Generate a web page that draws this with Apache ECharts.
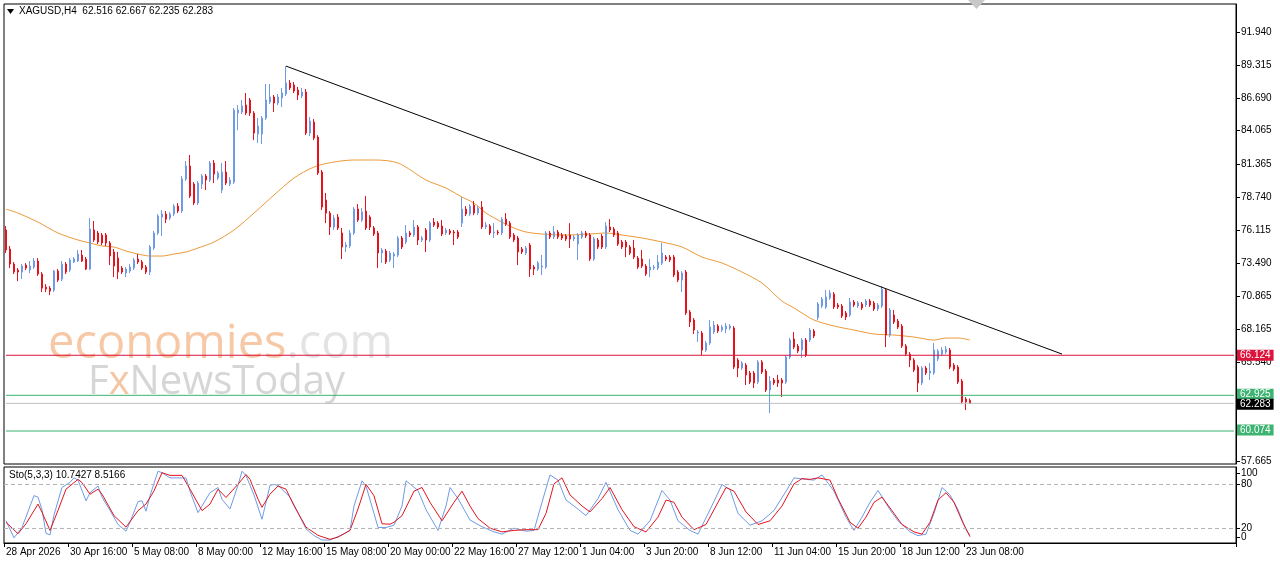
<!DOCTYPE html>
<html>
<head>
<meta charset="utf-8">
<script src="https://cdn.jsdelivr.net/npm/echarts@6/dist/echarts.min.js"></script>
<style>
html,body{margin:0;padding:0;background:#fff;}
#chart{width:1280px;height:567px;}
</style>
</head>
<body>
<div id="chart"></div>
<script>
// ---------- DATA ----------
const symbolTitle = 'XAGUSD,H4  62.516 62.667 62.235 62.283';
const stochTitle = 'Sto(5,3,3) 10.7427 8.5166';
const tickLabels = ['28 Apr 2026','30 Apr 16:00','5 May 08:00','8 May 00:00','12 May 16:00','15 May 08:00','20 May 00:00','22 May 16:00','27 May 12:00','1 Jun 04:00','3 Jun 20:00','8 Jun 12:00','11 Jun 04:00','15 Jun 20:00','18 Jun 12:00','23 Jun 08:00'];
const priceTicks = [91.940, 89.315, 86.690, 84.065, 81.365, 78.740, 76.115, 73.490, 70.865, 68.165, 65.540, 57.665];

const opens = [
76.13,74.61,73.41,72.93,72.77,73.33,72.93,73.17,73.65,72.61,
71.57,71.49,71.33,72.85,72.21,73.41,72.93,73.57,73.65,74.13,
73.81,73.01,76.13,75.89,75.73,75.73,75.09,74.37,73.89,73.09,
72.69,72.85,73.09,73.81,73.57,73.17,72.77,74.69,75.89,77.16,
77.40,77.08,77.40,78.04,77.64,80.20,81.24,79.80,78.28,79.80,
80.44,80.12,81.48,80.28,79.32,80.76,79.80,79.96,85.47,85.55,
86.11,86.51,85.47,83.79,83.79,85.07,86.35,86.75,86.27,86.67,
86.99,87.87,87.71,87.31,86.83,87.15,83.87,84.75,83.55,80.76,
78.52,77.48,76.37,77.16,75.89,74.77,74.85,75.89,77.80,76.92,
77.64,77.16,76.29,75.89,74.29,74.45,73.73,74.05,74.13,75.49,
75.17,75.89,75.73,76.37,75.33,76.13,75.33,76.76,76.68,76.45,
75.89,76.05,75.97,75.97,76.68,77.80,77.40,78.12,77.48,77.96,
76.37,76.45,75.89,75.97,75.89,77.00,76.68,75.73,75.49,74.61,
74.29,74.93,73.17,73.01,73.17,73.17,75.89,75.57,75.97,75.73,
75.65,75.73,75.41,75.01,75.57,75.89,75.73,73.81,75.33,75.65,
74.77,76.37,76.21,75.89,75.17,75.17,74.77,74.69,73.89,73.81,
73.25,72.93,73.09,73.09,73.49,73.97,73.97,73.97,72.77,72.13,
72.77,69.58,68.94,67.90,67.90,66.54,67.10,67.98,68.46,68.14,
68.22,68.30,68.30,65.74,65.10,65.34,64.71,64.71,63.99,65.58,
64.86,63.35,64.15,64.15,64.15,63.99,65.98,67.42,66.86,66.54,
67.34,67.34,68.06,69.14,70.06,69.98,70.70,71.01,70.14,70.06,
69.50,69.34,70.38,70.06,70.22,70.14,70.46,70.30,69.82,70.06,
71.33,67.74,69.34,68.86,68.46,66.86,66.22,65.74,65.18,63.91,
65.10,64.71,64.71,65.82,66.22,66.38,66.54,65.34,65.18,64.07,
62.63,62.516];
const closes = [
74.53,73.41,72.77,72.77,73.25,73.09,73.25,73.65,72.61,71.49,
71.41,71.25,72.85,72.13,73.41,72.77,73.73,73.81,74.21,73.65,
73.01,76.21,75.33,75.17,75.09,75.09,74.05,73.25,72.77,72.77,
73.01,73.17,73.73,73.57,73.09,72.77,74.77,75.89,77.24,77.40,
77.00,77.40,78.04,77.64,80.20,81.24,78.84,78.28,79.88,80.44,
80.12,81.48,80.60,80.68,80.76,79.88,80.12,85.71,85.71,86.03,
85.47,85.47,83.87,84.43,85.07,86.51,86.75,86.27,86.75,87.07,
87.87,87.47,87.23,86.91,87.15,83.87,84.83,83.47,80.68,77.96,
77.48,76.37,77.08,76.29,74.77,74.93,75.89,77.80,76.92,77.56,
76.29,76.37,75.81,74.29,74.53,73.57,74.29,74.21,75.49,74.77,
75.89,75.73,76.37,75.33,75.49,75.33,76.68,76.52,76.37,75.81,
76.13,75.89,75.89,75.57,77.80,77.40,78.04,77.48,77.88,76.37,
76.52,75.89,75.97,75.89,77.00,76.60,75.57,75.33,74.37,74.37,
74.69,73.01,73.01,73.49,73.25,75.89,75.57,75.97,75.57,75.49,
75.41,75.41,75.57,75.73,75.89,75.65,73.81,75.41,74.77,74.77,
76.45,76.13,75.73,75.01,74.77,74.77,74.29,73.97,73.17,73.25,
72.61,73.17,73.17,73.57,74.29,73.81,73.73,72.53,72.13,72.69,
69.50,68.78,68.14,67.98,66.54,67.10,68.38,68.54,68.06,68.38,
68.46,68.46,65.18,65.10,65.50,64.55,63.99,63.91,65.58,64.78,
63.35,64.07,63.91,63.91,63.91,65.98,67.34,66.78,66.46,67.34,
66.14,68.14,67.66,70.22,70.62,70.78,71.09,69.98,69.98,69.26,
69.18,70.38,70.14,70.30,69.90,70.46,70.14,69.82,70.14,71.41,
67.74,69.74,68.78,68.38,66.86,66.22,65.74,64.94,63.91,65.10,
64.71,64.86,66.54,66.46,66.54,66.62,65.18,65.02,63.99,62.39,
62.39,62.283];
const lows = [
74.29,73.09,72.61,72.05,72.21,72.93,72.69,73.01,72.45,71.17,
71.17,70.93,71.17,71.97,72.05,72.61,72.77,73.49,73.57,73.57,
72.93,72.93,75.17,75.01,74.93,74.85,73.33,72.37,72.21,72.61,
72.37,72.69,72.93,73.41,72.93,72.61,72.53,74.53,75.73,75.65,
76.68,76.92,77.24,77.48,77.48,80.04,78.68,78.12,78.12,79.40,
79.32,79.96,79.88,80.12,79.08,79.72,79.64,79.80,84.11,85.39,
85.31,85.23,83.31,83.07,82.99,84.91,86.19,85.55,86.11,85.95,
86.83,87.31,87.07,86.51,86.67,83.71,83.63,83.31,80.52,77.72,
76.68,75.73,76.13,76.13,73.81,74.37,74.69,75.73,76.77,76.77,
76.13,76.13,75.65,73.09,73.49,73.41,73.57,73.09,73.97,74.61,
75.01,75.57,75.57,74.93,75.17,74.37,75.17,76.37,76.21,75.65,
75.73,75.73,74.93,75.41,76.37,77.24,77.24,77.32,77.32,76.21,
76.21,75.73,75.49,75.73,75.73,76.45,75.41,75.17,73.33,74.21,
74.13,72.37,72.53,72.85,72.53,73.01,75.41,75.41,75.41,75.33,
75.25,74.69,75.25,73.73,75.41,75.49,73.65,73.65,74.61,74.61,
74.61,75.97,75.57,74.85,74.61,73.97,74.13,73.81,73.01,73.09,
72.45,72.37,72.93,72.93,73.33,73.65,73.57,72.37,71.97,71.17,
69.34,68.38,67.82,67.18,66.14,66.38,66.94,67.82,67.90,67.98,
67.90,68.14,65.02,64.39,64.94,63.75,63.83,63.51,63.83,64.62,
63.19,61.51,63.75,63.59,62.79,63.83,65.82,66.62,66.30,65.90,
65.98,67.18,67.50,68.94,69.90,69.82,70.54,69.82,69.82,69.10,
68.94,69.18,69.98,69.90,69.74,69.98,69.98,69.66,69.66,69.90,
66.78,67.58,68.62,68.22,66.70,66.06,65.18,64.78,63.19,63.75,
64.55,64.15,64.55,65.66,66.06,66.22,65.02,64.86,63.83,62.23,
61.75,62.235];
const highs = [
76.45,74.85,73.57,73.09,73.41,73.49,73.65,73.89,73.89,72.77,
71.81,71.65,72.93,73.01,73.65,73.57,73.89,73.97,74.53,74.53,
73.97,77.09,76.85,76.05,75.89,75.89,75.25,74.61,74.37,73.25,
73.17,73.41,73.89,74.21,73.73,73.33,74.93,76.05,77.40,77.72,
77.64,77.56,78.20,78.28,80.44,81.64,82.12,79.96,80.04,80.60,
80.60,81.64,81.72,80.84,81.48,81.64,80.36,85.87,86.11,86.51,
87.07,86.67,85.63,85.07,85.23,87.79,87.79,86.91,86.99,87.47,
89.22,88.11,87.95,87.55,87.47,87.39,85.15,84.99,83.71,80.92,
79.08,77.64,77.32,77.40,76.29,75.17,76.13,77.96,78.20,77.88,
78.84,77.32,76.45,76.05,74.69,74.61,74.45,74.37,75.65,75.65,
76.53,76.05,76.93,76.53,75.65,76.29,76.84,77.08,76.84,76.93,
76.29,76.21,76.13,76.13,78.76,78.04,78.20,78.44,78.04,78.44,
76.76,76.60,76.68,76.13,77.16,77.48,76.84,75.89,75.65,74.77,
74.85,75.09,73.33,73.65,74.13,76.05,76.05,76.45,76.13,75.89,
75.81,76.68,75.73,75.89,76.05,76.05,75.89,75.57,75.49,75.81,
76.76,77.00,76.37,76.05,75.33,75.33,74.93,75.33,74.05,74.53,
73.41,73.81,73.33,74.13,75.09,74.13,74.13,74.13,72.93,72.85,
72.93,69.74,69.10,68.14,68.06,67.26,68.94,68.86,68.62,68.54,
68.70,68.62,68.46,65.90,65.66,65.50,64.87,64.87,65.74,65.74,
65.02,64.47,64.31,64.55,64.31,66.14,67.50,67.98,67.02,67.50,
67.50,68.30,68.22,70.38,70.78,71.33,71.33,71.17,70.30,70.22,
69.66,70.70,70.54,70.46,70.38,70.62,70.62,70.46,70.30,71.65,
71.49,69.90,69.74,69.02,68.62,67.02,66.38,65.90,65.34,65.26,
65.26,65.50,67.10,66.62,66.78,66.86,66.70,65.50,65.34,64.23,
62.79,62.667];

// moving average, read at points along the curve (bar index, price)
const maIndex = [0,3,8,13,18,21,24,27,30,33,36,39,42,45,48,52,57,62,67,72,77,82,87,92,98,105,110,114,117,120,124,127,130,134,140,146,150,154,159,164,169,174,179,184,189,194,197,199,202,207,212,217,222,227,232,235,238,241];
const maValue = [77.80,77.48,76.76,75.89,75.33,75.09,74.85,74.77,74.45,74.21,74.05,74.05,74.21,74.37,74.69,75.17,76.13,77.48,78.92,80.28,81.16,81.56,81.72,81.72,81.48,80.12,79.48,78.76,78.28,77.48,76.76,76.29,75.97,75.81,75.73,75.81,75.89,75.73,75.49,75.17,74.77,73.97,73.49,72.77,71.89,70.45,69.90,69.50,68.94,68.46,68.14,67.82,67.74,67.58,67.34,67.50,67.50,67.34];

// stochastic %K (blue) and %D (red), read at bar indices
const kIndex = [0,2,4,7,8,9,10,11,12,14,16,17,18,20,21,23,24,26,28,30,31,33,34,35,36,38,39,41,43,45,46,48,49,51,53,54,56,58,59,60,62,64,66,67,68,71,73,75,77,79,81,84,86,87,89,90,92,93,95,97,99,100,103,105,108,110,111,113,116,119,122,124,127,130,132,134,136,138,140,142,145,148,150,153,156,158,161,164,166,168,171,173,176,179,181,183,186,189,192,195,197,200,202,204,207,210,212,214,216,218,221,223,226,228,230,232,234,236,238,240,241];
const kValue = [30,7,21,64,62,45,13,11,38,75,82,88,85,57,68,77,62,44,25,16,28,56,57,43,64,97,95,88,88,88,70,41,50,68,75,59,46,78,97,91,65,32,78,79,78,62,41,19,10,4,4,11,17,50,84,77,40,21,21,24,50,84,71,45,17,50,75,60,31,22,15,12,20,16,17,55,92,85,58,50,37,60,82,45,17,12,30,71,58,30,17,12,45,79,72,40,24,30,44,70,88,86,85,92,70,35,17,35,55,71,45,30,15,10,12,40,75,65,45,18,10.74];
const dIndex = [0,3,5,8,9,11,13,15,18,19,21,23,24,27,30,33,35,37,39,41,44,46,49,51,53,55,58,60,61,63,64,66,68,70,72,75,78,81,83,86,88,90,92,94,96,97,99,102,104,106,109,112,114,116,118,121,124,127,130,133,135,137,139,141,144,146,149,151,154,157,160,163,165,167,169,172,175,178,180,182,185,188,191,194,197,199,201,203,206,208,211,213,215,217,219,222,224,227,229,231,233,235,237,239,241];
const dValue = [28,12.5,26,52.6,41.5,17,44,72.7,86,81.6,66,72.7,66,37,21.4,43.7,52.6,70.4,95,91.4,91.4,72.7,43.7,52.6,72.7,61.5,79.4,92.5,86,59.3,48.2,66,77,72.7,50.4,21.4,10.3,4.9,8,17,46,79.4,63.8,26,25.4,28,37,70,75,55,30,55,70,50,33,20,15,17,18,18,40,80,88,65,50,42,60,75,45,22,15,35,58,55,35,18,25,55,75,70,42,25,30,50,80,87,86,88,85,60,28,20,35,55,62,40,25,15,12,28,58,68,55,30,8.52];

// horizontal levels and trend line (bar index, price)
const levelPrices = [66.124, 62.925, 62.283, 60.074];
const levelKinds = ['resistance', 'support', 'bid', 'support'];
const trendIndex = [70, 264];
const trendPrice = [89.22, 66.22];

// ---------- BUILD ----------
const TOTAL_SLOTS = 308;
const LAST_BAR = opens.length - 1;
const categories = [];
(function(){
  const mon = ['Jan','Feb','Mar','Apr','May','Jun','Jul','Aug','Sep','Oct','Nov','Dec'];
  let t = Date.UTC(2026,3,28,0);
  while (categories.length < TOTAL_SLOTS) {
    const d = new Date(t);
    const wd = d.getUTCDay();
    if (wd !== 0 && wd !== 6) {
      const hh = String(d.getUTCHours()).padStart(2,'0');
      categories.push(d.getUTCDate() + ' ' + mon[d.getUTCMonth()] + ' ' + hh + ':00');
    }
    t += 4*3600*1000;
  }
})();
const candleData = opens.map((o,i)=>[o, closes[i], lows[i], highs[i]]);
const maData = maIndex.map((x,j)=>[x, maValue[j]]);
const kData = kIndex.map((x,j)=>[x, kValue[j]]);
const dData = dIndex.map((x,j)=>[x, dValue[j]]);
const trendData = trendIndex.map((x,j)=>[x, trendPrice[j]]);

const UP = '#6f9be6', DOWN = '#e3141e';
const FONT = 'Liberation Sans, Arial, sans-serif';
const levelStyle = {
  resistance: {line:'#dc143c', bg:'#dc143c', fg:'#ffffff', dy:0},
  support: {line:'#3cb371', bg:'#3cb371', fg:'#ffffff', dy:-1},
  bid: {line:'#c0c0c0', bg:'#000000', fg:'#ffffff', dy:1}
};
const levelSeries = levelPrices.map((p, j) => {
  const st = levelStyle[levelKinds[j]];
  return {
    type:'line', xAxisIndex:0, yAxisIndex:0, z:4, silent:true,
    data:[[0, p], [TOTAL_SLOTS - 1, p]],
    showSymbol:false, symbol:'none',
    lineStyle:{color:st.line, width:1, type:'solid'},
    itemStyle:{color:st.line},
    emphasis:{disabled:true},
    endLabel:{show:true, distance:3, formatter:() => p.toFixed(3),
      backgroundColor:st.bg, color:st.fg, padding:[1,3,0,3], lineHeight:10,
      fontSize:10, fontFamily:FONT, offset:[0, st.dy]}
  };
});

const chart = echarts.init(document.getElementById('chart'), null, {renderer:'canvas'});
const showTick = (idx) => idx % 16 === 0 && idx <= LAST_BAR && !!tickLabels[idx/16];
const option = {
  animation: false,
  backgroundColor: '#ffffff',
  textStyle: {fontFamily: FONT},
  grid: [
    {left:4, right:44, top:4, height:460, show:true, borderColor:'#000', borderWidth:1, backgroundColor:'rgba(0,0,0,0)'},
    {left:4, right:44, top:467, height:76, show:true, borderColor:'#000', borderWidth:1, backgroundColor:'rgba(0,0,0,0)'}
  ],
  xAxis: [
    {type:'category', gridIndex:0, data:categories, show:false},
    {type:'category', gridIndex:1, data:categories,
     axisLine:{show:true, lineStyle:{color:'#000'}},
     axisTick:{show:true, interval:(idx)=>showTick(idx), length:4, lineStyle:{color:'#000'}},
     axisLabel:{interval:(idx)=>showTick(idx), align:'left', margin:4, fontSize:10, color:'#000', fontFamily:FONT,
       formatter:(v, idx) => showTick(idx) ? tickLabels[idx/16] : ''}}
  ],
  yAxis: [
    {type:'value', gridIndex:0, position:'right', min:57.44, max:94.18, scale:true,
     splitLine:{show:false},
     axisLine:{show:true, lineStyle:{color:'#000'}},
     axisTick:{show:true, length:4, customValues:priceTicks, lineStyle:{color:'#000'}},
     axisLabel:{customValues:priceTicks, formatter:v=>Number(v).toFixed(3), fontSize:10, color:'#000', margin:5, fontFamily:FONT}},
    {type:'value', gridIndex:1, position:'right', min:0, max:102.7,
     splitLine:{show:false},
     axisLine:{show:true, lineStyle:{color:'#000'}},
     axisTick:{show:true, length:4, customValues:[20,80], lineStyle:{color:'#000'}},
     axisLabel:{customValues:[20,80], fontSize:10, color:'#000', margin:5, fontFamily:FONT}},
    {type:'value', gridIndex:1, position:'right', min:-9.23, max:109.23,
     splitLine:{show:false}, axisLine:{show:false},
     axisTick:{show:true, length:4, customValues:[0,100], lineStyle:{color:'#000'}},
     axisLabel:{customValues:[0,100], fontSize:10, color:'#000', margin:5, fontFamily:FONT}}
  ],
  graphic: [
    {type:'text', left:48, top:321, z:0, silent:true,
     style:{text:'{a|economies}{b|.com}', rich:{
       a:{fontSize:47, fontFamily:'Open Sans, Liberation Sans, sans-serif', fill:'#f6c8a6'},
       b:{fontSize:47, fontFamily:'Open Sans, Liberation Sans, sans-serif', fill:'#e3e3e3'}}}},
    {type:'text', left:88, top:363, z:0, silent:true,
     style:{text:'{a|F}{b|x}{a|NewsToday}', rich:{
       a:{fontSize:40, fontFamily:'Open Sans, Liberation Sans, sans-serif', fill:'#d6d6d6'},
       b:{fontSize:40, fontFamily:'Open Sans, Liberation Sans, sans-serif', fill:'#f3c7a5'}}}},
    {type:'polygon', z:10, shape:{points:[[7,9],[14,9],[10.5,14]]}, style:{fill:'#000'}},
    {type:'text', left:19, top:6, z:10, style:{text:symbolTitle, fontSize:10, fontFamily:FONT, fill:'#000'}},
    {type:'text', left:9, top:470, z:10, style:{text:stochTitle, fontSize:10, fontFamily:FONT, fill:'#000'}},
    {type:'polygon', z:10, shape:{points:[[968,0],[985,0],[976.5,9]]}, style:{fill:'#c8c8c8'}}
  ],
  series: [
    {type:'candlestick', xAxisIndex:0, yAxisIndex:0, data:candleData, barWidth:2, z:3,
     itemStyle:{color:UP, color0:DOWN, borderColor:UP, borderColor0:DOWN, borderWidth:1}},
    ...levelSeries,
    {type:'line', xAxisIndex:0, yAxisIndex:0, data:trendData, z:4, silent:true,
     showSymbol:false, symbol:'none', lineStyle:{color:'#000', width:1}, itemStyle:{color:'#000'}},
    {type:'line', xAxisIndex:0, yAxisIndex:0, data:maData, showSymbol:false, symbol:'none', smooth:0.3,
     lineStyle:{color:'#eb9a3a', width:1}, itemStyle:{color:'#eb9a3a'}, z:3},
    {type:'line', xAxisIndex:1, yAxisIndex:1, data:kData, showSymbol:false, symbol:'none',
     lineStyle:{color:'#6f9be6', width:1}, itemStyle:{color:'#6f9be6'},
     markLine:{silent:true, symbol:['none','none'], label:{show:false},
       lineStyle:{color:'#b4b4b4', type:[4,3], width:1},
       data:[{yAxis:20},{yAxis:80}]}},
    {type:'line', xAxisIndex:1, yAxisIndex:1, data:dData, showSymbol:false, symbol:'none',
     lineStyle:{color:'#e3141e', width:1}, itemStyle:{color:'#e3141e'}}
  ]
};
chart.setOption(option);
</script>
</body>
</html>
